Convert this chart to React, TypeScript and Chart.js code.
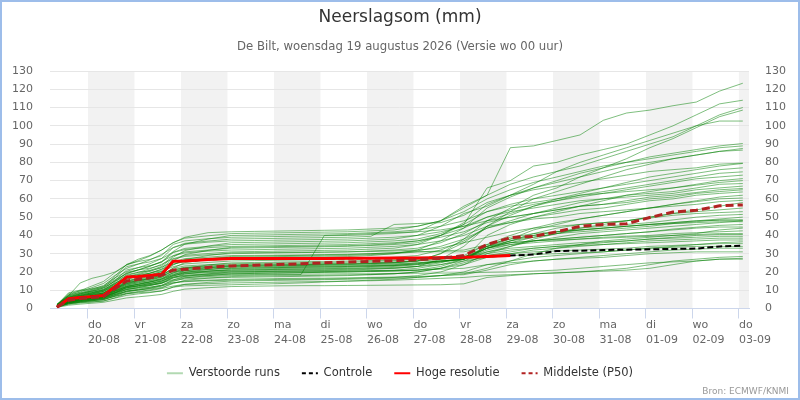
import React, { useEffect, useRef } from "react";
import { Chart, registerables } from "chart.js";

Chart.register(...registerables);

// ---------- data ----------
// hours since 19-08 00:00 (local time)
const hours = [8, 14, 20, 26, 32, 38, 44, 50, 56, 62, 68, 74, 86, 98, 110, 122, 134, 146, 158, 170, 182, 194, 206, 218, 230, 242, 254, 266, 278, 290, 302, 314, 326, 338, 350, 362];

const tickHours = [24, 48, 72, 96, 120, 144, 168, 192, 216, 240, 264, 288, 312, 336, 360];
const dayNames = ["do", "vr", "za", "zo", "ma", "di", "wo", "do", "vr", "za", "zo", "ma", "di", "wo", "do"];
const dayDates = ["20-08", "21-08", "22-08", "23-08", "24-08", "25-08", "26-08", "27-08", "28-08", "29-08", "30-08", "31-08", "01-09", "02-09", "03-09"];
const shadedDayStarts = [24, 72, 120, 168, 216, 264, 312, 360];

const hiRes = [0.7, 5.3, 6, 6.5, 7.1, 12, 17.2, 17.5, 18, 18.7, 25.8, 26, 26.8, 27.4, 27.4, 27.4, 27.4, 27.4, 27.5, 27.5, 27.6, 27.6, 27.8, 28, 28.5, 29];
const control = [0.7, 5.3, 6, 6.5, 7.1, 12, 17.2, 17.5, 18, 18.7, 25.8, 26, 26.8, 27.4, 27.4, 27.4, 27.4, 27.4, 27.5, 27.5, 27.6, 27.6, 27.8, 28, 28.5, 29, 29.5, 31.5, 31.6, 32, 32.2, 32.4, 32.6, 32.8, 34, 34.4];
const median = [0.8, 4.5, 5.5, 6, 6.5, 11, 15, 16, 16.8, 18.2, 21, 21.5, 22.5, 23.3, 23.7, 24.1, 24.5, 25, 25.4, 25.8, 26.2, 26.7, 27.5, 29, 35, 38.8, 39.5, 42, 45, 46, 46.4, 49.8, 52.8, 53.8, 56.2, 56.7];

const m01 = [0.6, 1.8, 2.4, 2.9, 3.4, 4.6, 5.8, 6.4, 7, 7.7, 9.4, 10.6, 11.4, 12, 12.2, 12.4, 12.5, 12.5, 12.6, 12.7, 12.8, 12.9, 13, 13.5, 17, 18, 19, 19.5, 20, 20.5, 21, 22, 24, 26, 27, 27];
const m02 = [0.7, 2.9, 3.4, 3.6, 4, 5.9, 8.1, 8.6, 9, 9.6, 11.7, 12.4, 12.7, 13, 13.3, 13.6, 14, 14.5, 15, 15.5, 16, 17, 18, 20, 24, 26, 28, 29, 30, 31, 32, 33, 34, 35, 36, 36.5];
const m03 = [0.8, 2.5, 3.4, 4.2, 5, 6.7, 8.1, 9, 9.8, 10.9, 12.3, 13.2, 13.6, 14, 14.2, 14.4, 14.6, 14.8, 15, 15.2, 15.5, 16, 16.5, 17, 18, 18.5, 19, 19.5, 20, 21, 22, 24, 26, 27, 28, 28.5];
const m04 = [0.8, 2.3, 3, 3.6, 4.2, 5.7, 7.2, 8, 8.7, 9.6, 11.7, 13.2, 14.3, 15, 15.2, 15.4, 15.6, 15.8, 16, 16.3, 16.6, 17, 18, 19, 22, 26, 30, 33, 35, 37, 38, 39, 40, 41, 43, 44];
const m05 = [0.8, 3.4, 4, 4.3, 4.8, 7, 9.6, 10.2, 10.7, 11.5, 14, 14.7, 15.2, 15.5, 15.7, 15.9, 16, 16.2, 16.4, 16.7, 17, 18, 20, 24, 30, 34, 38, 41, 44, 46, 48, 50, 52, 54, 56, 58];
const m06 = [1, 2.9, 3.8, 4.8, 5.8, 7.7, 9.3, 10.2, 11.2, 12.5, 14.1, 15, 15.5, 16, 16.2, 16.4, 16.5, 16.6, 16.8, 17, 17.2, 17.5, 18, 18.5, 21, 24, 26, 27, 28, 29, 30, 31, 32, 32.5, 33, 33];
const m07 = [0.9, 3.7, 4.4, 4.8, 5.3, 7.7, 10.5, 11.2, 11.7, 12.6, 15.3, 16.2, 16.7, 17, 17.2, 17.4, 17.6, 17.8, 18, 18.5, 19, 20, 22, 26, 31, 34, 37, 39, 41, 42, 43, 44, 45, 46, 47, 48];
const m08 = [0.9, 2.6, 3.5, 4.2, 4.9, 6.7, 8.4, 9.3, 10.2, 11.2, 13.7, 15.4, 16.6, 17.5, 17.7, 17.9, 18, 18.2, 18.4, 18.6, 19, 20, 22, 25, 29, 31, 33, 34, 35, 36, 37, 38, 39, 40, 40.5, 40.5];
const m09 = [1.1, 3.2, 4.3, 5.4, 6.5, 8.6, 10.4, 11.5, 12.6, 14, 15.8, 16.9, 17.5, 18, 18.2, 18.4, 18.6, 40, 40.5, 41, 41.5, 42, 43, 45, 48, 50, 52, 54, 56, 57, 58, 60, 61, 63, 64, 65];
const m10 = [0.9, 4.1, 4.8, 5.2, 5.7, 8.3, 11.5, 12.2, 12.8, 13.7, 16.7, 17.6, 18.1, 18.5, 18.6, 18.7, 18.8, 18.9, 19, 19, 19.2, 19.3, 19.4, 19.5, 19.8, 20, 20.5, 21, 22, 23, 24, 25, 25.5, 26, 27, 27.5];
const m11 = [1, 2.9, 3.8, 4.6, 5.3, 7.2, 9.1, 10.1, 11, 12.2, 14.8, 16.7, 18, 19, 19.2, 19.4, 19.6, 19.8, 20, 20.3, 20.6, 21, 23, 27, 33, 36, 39, 41, 43, 44, 45, 46, 47, 48, 49, 50];
const m12 = [1, 4.2, 4.9, 5.3, 5.9, 8.6, 11.8, 12.5, 13.1, 14.1, 17.1, 18, 18.6, 19, 19.2, 19.4, 19.6, 19.8, 20, 20.2, 20.5, 21, 22, 24, 28, 30, 32, 33, 34, 35, 36, 37, 37.5, 38, 38.5, 38.5];
const m13 = [1.2, 3.5, 4.7, 5.9, 7, 9.4, 11.3, 12.5, 13.7, 15.2, 17.2, 18.3, 18.9, 19.5, 19.7, 19.9, 20, 20.2, 20.4, 20.7, 21, 22, 24, 27, 40, 46, 50, 53, 56, 59, 62, 64, 66, 68, 70, 71.1];
const m14 = [1, 4.4, 5.2, 5.6, 6.2, 9, 12.4, 13.2, 13.8, 14.8, 18, 19, 19.6, 20, 20.2, 20.3, 20.4, 20.5, 20.6, 20.7, 20.8, 21, 21.5, 22, 24, 25, 26, 27, 27.5, 28, 29, 30, 30.5, 31, 31, 31];
const m15 = [1, 3, 4, 4.8, 5.6, 7.6, 9.6, 10.6, 11.6, 12.8, 15.6, 17.6, 19, 20, 20.2, 20.4, 20.6, 20.8, 21, 21.5, 22, 23, 25, 28, 33, 35, 37, 38, 39, 40, 41, 42, 43, 44, 44.6, 44.6];
const m16 = [1.2, 3.7, 4.9, 6.2, 7.4, 9.8, 11.9, 13.1, 14.4, 16, 18, 19.3, 19.9, 20.5, 20.7, 20.9, 21, 21.2, 21.4, 21.7, 22, 23, 27, 34, 45, 53, 60, 64, 68, 72, 76, 79, 82, 84, 86, 87.6];
const m17 = [1.1, 4.6, 5.5, 5.9, 6.5, 9.5, 13, 13.9, 14.5, 15.5, 18.9, 20, 20.6, 21, 21.2, 21.4, 21.6, 21.8, 22, 22.5, 23, 24, 25.5, 27, 34, 39, 41, 42, 43, 44, 45, 46, 47, 48, 48.3, 48.3];
const m18 = [1.3, 3.8, 5, 6.3, 7.6, 10.1, 12.2, 13.4, 14.7, 16.4, 18.5, 19.7, 20.4, 21, 21.2, 21.4, 21.5, 21.6, 21.8, 22, 22.5, 23, 24, 26, 28, 29, 29.5, 30, 30.5, 31, 32, 33, 33.5, 34, 34, 34];
const m19 = [1.1, 3.2, 4.3, 5.2, 6, 8.2, 10.3, 11.4, 12.5, 13.8, 16.8, 18.9, 20.4, 21.5, 21.7, 21.9, 22.1, 22.3, 22.5, 23, 23.5, 24.5, 26, 27, 33, 37, 41, 44, 46, 47, 48, 50, 52, 53, 54, 55];
const m20 = [1.1, 4.8, 5.7, 6.2, 6.8, 9.9, 13.6, 14.5, 15.2, 16.3, 19.8, 20.9, 21.6, 22, 22.2, 22.4, 22.6, 22.8, 23, 23.2, 23.5, 24, 25.5, 27, 32, 35, 36, 37, 38, 39, 39.5, 40, 41, 41.5, 42, 42.5];
const m21 = [1.3, 4, 5.3, 6.6, 7.9, 10.6, 12.8, 14.1, 15.4, 17.2, 19.4, 20.7, 21.3, 22, 22.2, 22.4, 22.6, 22.8, 23, 23.3, 23.7, 24.5, 26, 27, 34, 38, 43, 46, 49, 51, 53, 55, 57, 59, 61, 62];
const m22 = [1.1, 3.4, 4.5, 5.4, 6.3, 8.6, 10.8, 11.9, 13.1, 14.4, 17.6, 19.8, 21.4, 22.5, 22.7, 22.9, 23, 23.2, 23.4, 23.6, 24, 25, 26, 27, 33, 36, 37, 38, 39, 40, 41, 42, 43.5, 44.5, 45.5, 46];
const m23 = [1.2, 5.1, 6, 6.4, 7.1, 10.4, 14.3, 15.2, 15.9, 17, 20.7, 21.9, 22.5, 23, 23.2, 23.4, 23.6, 23.8, 24, 24.5, 25, 26, 30, 36, 45, 51, 56, 60, 63, 66, 69, 72, 74, 76, 78, 79.4];
const m24 = [1.4, 4.1, 5.5, 6.9, 8.3, 11, 13.3, 14.7, 16.1, 17.9, 20.2, 21.6, 22.3, 23, 23.2, 23.3, 23.5, 23.7, 23.8, 24, 24.5, 25, 26, 27, 29, 30, 31, 31.5, 32, 32.5, 33, 34, 34.5, 35, 35.5, 35.5];
const m25 = [1.2, 5.2, 6.1, 6.6, 7.3, 10.6, 14.6, 15.5, 16.2, 17.4, 21.2, 22.3, 23, 23.5, 23.7, 23.9, 24, 24.2, 24.4, 24.6, 25, 26, 27, 28, 34, 37, 39, 41, 42, 43, 44, 45, 46.5, 47.5, 48.5, 48.5];
const m26 = [1.2, 3.5, 4.7, 5.6, 6.6, 8.9, 11.3, 12.5, 13.6, 15, 18.3, 20.7, 22.3, 23.5, 23.7, 23.9, 24, 24.2, 24.4, 24.8, 25.2, 26, 30, 38, 48, 55, 62, 66, 72, 77, 82, 88, 93, 99, 105, 108.6];
const m27 = [1.4, 4.3, 5.8, 7.2, 8.6, 11.5, 13.9, 15.4, 16.8, 18.7, 21.1, 22.6, 23.3, 24, 24.2, 24.4, 24.5, 24.6, 24.8, 25, 25.5, 26, 27, 28, 31, 33, 34, 35, 36, 36.5, 37, 38, 38.5, 39, 39.5, 39.5];
const m28 = [1.2, 5.4, 6.4, 6.9, 7.6, 11, 15.2, 16.2, 16.9, 18.1, 22, 23.3, 24, 24.5, 24.7, 24.9, 25, 25.2, 25.4, 25.8, 26.2, 27, 28, 29, 35, 40, 44, 47, 49, 51, 53, 55, 57, 58.5, 60, 60.5];
const m29 = [1.3, 3.8, 5, 6, 7, 9.5, 12, 13.3, 14.5, 16, 19.5, 22, 23.8, 25, 25.2, 25.4, 25.6, 25.8, 26, 26.3, 26.6, 27, 27.5, 28, 33, 37, 40, 42, 44, 45, 46, 47, 48.5, 50, 51, 51.5];
const m30 = [1.6, 4.7, 6.2, 7.8, 9.4, 12.5, 15.1, 16.6, 18.2, 20.3, 22.9, 24.4, 25.2, 26, 26.2, 26.4, 26.6, 26.8, 27, 27.5, 28, 29, 32, 37, 44, 48, 52, 55, 58, 60, 62, 63, 64, 66, 68, 68.4];
const m31 = [1.4, 5.9, 7, 7.6, 8.4, 12.2, 16.7, 17.8, 18.6, 20, 24.3, 25.7, 26.5, 27, 27.1, 27.2, 27.3, 27.4, 27.5, 27.6, 27.8, 28, 28.2, 28.5, 30, 32, 33, 34, 34.5, 35, 35.5, 36, 36.5, 37, 37.5, 37.5];
const m32 = [1.7, 5, 6.6, 8.3, 9.9, 13.2, 16, 17.6, 19.3, 21.5, 24.2, 25.9, 26.7, 27.5, 27.7, 27.9, 28, 28.2, 28.4, 29, 30, 32, 37, 44, 55, 61, 66, 70, 74, 77, 80, 83, 85, 87, 89, 90.3];
const m33 = [1.4, 6.2, 7.3, 7.8, 8.7, 12.6, 17.4, 18.5, 19.3, 20.7, 25.2, 26.6, 27.4, 28, 28.2, 28.4, 28.6, 28.8, 29, 29.5, 30, 31, 31.5, 32, 35, 38, 40, 42, 43, 44, 45, 46, 46.5, 47, 47.5, 47.5];
const m34 = [1.4, 4.3, 5.7, 6.8, 8, 10.8, 13.7, 15.1, 16.5, 18.2, 22.2, 25.1, 27.1, 28.5, 28.7, 28.9, 29.1, 29.3, 29.5, 30, 30.5, 31.5, 34, 38, 44, 47, 50, 52, 54, 55, 57, 59, 60, 62, 63, 63.8];
const m35 = [1.7, 5.2, 7, 8.7, 10.4, 13.9, 16.8, 18.6, 20.3, 22.6, 25.5, 27.3, 28.1, 29, 29.1, 29.2, 29.3, 29.5, 29.7, 30, 30.5, 31, 31, 31, 34, 36, 37, 37.5, 38, 38.5, 39, 39.5, 40, 40.5, 41, 41];
const m36 = [1.5, 6.6, 7.8, 8.4, 9.3, 13.5, 18.6, 19.8, 20.7, 22.2, 27, 28.5, 29.4, 30, 30.2, 30.4, 30.6, 30.8, 31, 31.5, 32, 33, 36, 41, 48, 52, 56, 59, 62, 64, 66, 68, 70, 72, 74, 74.8];
const m37 = [1.5, 4.6, 6.1, 7.3, 8.5, 11.6, 14.6, 16.2, 17.7, 19.5, 23.8, 26.8, 29, 30.5, 30.6, 30.7, 30.8, 30.9, 31, 31.2, 31.5, 32, 33, 36, 39, 42, 44, 45, 46, 47, 48, 49.5, 51, 52, 52.5, 53];
const m38 = [1.9, 5.6, 7.4, 9.3, 11.2, 14.9, 18, 19.8, 21.7, 24.2, 27.3, 29.1, 30.1, 31, 31.2, 31.4, 31.6, 31.8, 32, 32.5, 33, 35, 40, 46, 66, 70, 78, 80, 84, 87, 90, 95, 100, 106, 112, 114];
const m39 = [1.6, 7, 8.3, 9, 9.9, 14.4, 19.8, 21.1, 22.1, 23.7, 28.8, 30.4, 31.4, 32, 32.2, 32.4, 32.6, 32.8, 33, 33.5, 34, 35, 37, 40, 45, 47, 49, 50, 52, 53, 54, 55, 56, 57, 58.5, 59.2];
const m40 = [2, 5.9, 7.9, 9.9, 11.9, 15.8, 19.1, 21.1, 23.1, 25.7, 29, 31, 32, 33, 33.2, 33.4, 33.6, 33.8, 34, 34.5, 35, 36, 40, 47, 57, 62, 66, 69, 72, 75, 78, 80, 82, 84, 86, 86.7];
const m41 = [1.7, 5, 6.7, 8, 9.4, 12.7, 16.1, 17.8, 19.4, 21.4, 26.1, 29.5, 31.8, 33.5, 33.7, 33.9, 34, 34.2, 34.4, 34.8, 35.5, 37, 40, 44, 50, 54, 57, 59, 61, 63, 65, 67, 69, 71, 72, 73];
const m42 = [1.7, 7.5, 8.8, 9.5, 10.5, 15.3, 21.1, 22.4, 23.5, 25.2, 30.6, 32.3, 33.3, 34, 34.2, 34.4, 34.6, 34.8, 35, 35.5, 36, 37, 39, 42, 47, 50, 52, 54, 56, 57, 59, 61, 62, 63.5, 65, 65.7];
const m43 = [2.1, 6.3, 8.4, 10.5, 12.6, 16.8, 20.3, 22.4, 24.5, 27.3, 30.8, 32.9, 34, 35, 35.2, 35.4, 35.6, 35.8, 36, 36.5, 37, 38, 41, 46, 53, 57, 60, 62, 64, 66, 68, 70, 72, 74, 76, 77];
const m44 = [1.8, 5.4, 7.2, 8.6, 10.1, 13.7, 17.3, 19.1, 20.9, 23, 28.1, 31.7, 34.2, 36, 36.2, 36.4, 36.6, 36.8, 37, 37.5, 38, 40, 45, 52, 56, 62, 68, 75, 80, 84, 88, 92, 96, 100, 102.6, 102.6];
const m45 = [1.9, 8.1, 9.6, 10.4, 11.5, 16.7, 22.9, 24.4, 25.5, 27.4, 33.3, 35.2, 36.3, 37, 37.2, 37.4, 37.6, 37.8, 38, 38.5, 39, 40, 42, 45, 50, 53, 55, 57, 59, 60, 61, 62, 63, 65, 66, 67];
const m46 = [2.3, 6.8, 9.1, 11.4, 13.7, 18.2, 22, 24.3, 26.6, 29.6, 33.4, 35.7, 36.9, 38, 38.2, 38.4, 38.6, 38.8, 39, 39.5, 46, 46.5, 47, 51, 58, 62, 65, 67, 69, 71, 73, 75, 76, 77, 79, 79.6];
const m47 = [2, 8.6, 10.1, 10.9, 12.1, 17.6, 24.2, 25.7, 26.9, 28.9, 35.1, 37, 38.2, 39, 39.2, 39.4, 39.6, 39.8, 40, 40.5, 41, 42, 48, 56, 62, 88, 89, 92, 95, 103, 107, 108.6, 111, 113, 119, 123.3];
const m48 = [2, 6, 8, 9.6, 11.2, 15.2, 19.2, 21.2, 23.2, 25.6, 31.2, 35.2, 38, 40, 40.2, 40.4, 40.6, 40.8, 41, 41.5, 42, 43, 45, 48, 53, 56, 58, 60, 62, 63, 64, 65, 66, 67.5, 69, 70];
const m49 = [2.5, 7.4, 9.8, 12.3, 14.8, 19.7, 23.8, 26.2, 28.7, 32, 36.1, 38.5, 39.8, 41, 41.2, 41.4, 41.6, 41.8, 42, 42.5, 43, 45, 48, 53, 60, 65, 69, 72, 75, 78, 80, 82, 84, 86, 88, 89];
const m50 = [2, 7, 14, 16.5, 18, 20, 24, 27, 29, 32, 36, 39, 41.5, 42, 42.2, 42.4, 42.6, 42.8, 43, 43.5, 44, 45, 48, 55, 62, 68, 72, 75, 78, 82, 86, 90, 94, 100, 106, 110];

const members = [m01, m02, m03, m04, m05, m06, m07, m08, m09, m10, m11, m12, m13, m14, m15, m16, m17, m18, m19, m20, m21, m22, m23, m24, m25, m26, m27, m28, m29, m30, m31, m32, m33, m34, m35, m36, m37, m38, m39, m40, m41, m42, m43, m44, m45, m46, m47, m48, m49, m50];

const TITLE = "Neerslagsom (mm)";
const SUBTITLE = "De Bilt, woensdag 19 augustus 2026 (Versie wo 00 uur)";
const CREDIT = "Bron: ECMWF/KNMI";
const legendNames = ["Verstoorde runs", "Controle", "Hoge resolutie", "Middelste (P50)"];

const FONT = "'DejaVu Sans', Verdana, sans-serif";

export default function App() {
  const ref = useRef<HTMLCanvasElement | null>(null);

  useEffect(() => {
    document.body.style.margin = "0";
    const canvas = ref.current;
    if (!canvas) return;

    const toPts = (vals: number[]) => vals.map((v, i) => ({ x: hours[i], y: v }));

    const datasets: any[] = members.map((m, k) => ({
      label: k === 0 ? legendNames[0] : legendNames[0] + " " + (k + 1),
      data: toPts(m),
      borderColor: "rgba(0,128,0,0.5)",
      borderWidth: 1,
      pointRadius: 0,
      tension: 0,
      order: 4,
    }));
    datasets.push({
      label: legendNames[1],
      data: toPts(control),
      borderColor: "#000000",
      borderWidth: 2,
      borderDash: [6, 3],
      pointRadius: 0,
      order: 3,
    });
    datasets.push({
      label: legendNames[2],
      data: toPts(hiRes),
      borderColor: "#ff0000",
      borderWidth: 3,
      pointRadius: 0,
      order: 2,
    });
    datasets.push({
      label: legendNames[3],
      data: toPts(median),
      borderColor: "#b22222",
      borderWidth: 3,
      borderDash: [8, 4],
      pointRadius: 0,
      order: 1,
    });

    const bandsPlugin = {
      id: "dayBands",
      beforeDraw(chart: any) {
        const { ctx, chartArea: a, scales } = chart;
        const xs = scales.x;
        ctx.save();
        ctx.fillStyle = "#f2f2f2";
        shadedDayStarts.forEach((h) => {
          const x0 = Math.max(a.left, xs.getPixelForValue(h));
          const x1 = Math.min(a.right, xs.getPixelForValue(h + 24));
          if (x1 > x0) ctx.fillRect(x0, a.top, x1 - x0, a.bottom - a.top);
        });
        ctx.restore();
      },
    };

    const textPlugin = {
      id: "texts",
      afterDraw(chart: any) {
        const { ctx, width, height } = chart;
        ctx.save();
        ctx.textAlign = "center";
        ctx.textBaseline = "middle";
        ctx.fillStyle = "#333333";
        ctx.font = "17px " + FONT;
        ctx.fillText(TITLE, width / 2, 18);
        ctx.fillStyle = "#666666";
        ctx.font = "11.7px " + FONT;
        ctx.fillText(SUBTITLE, width / 2, 47);
        ctx.textAlign = "right";
        ctx.fillStyle = "#999999";
        ctx.font = "9px " + FONT;
        ctx.fillText(CREDIT, width - 11, height - 8);
        ctx.strokeStyle = "#9dbdea";
        ctx.lineWidth = 2;
        ctx.strokeRect(1, 1, width - 2, height - 2);
        ctx.restore();
      },
    };

    const yTickOpts = (pad: number) => ({
      stepSize: 10,
      padding: pad,
      color: "#666666",
      font: { size: 11, family: FONT },
    });

    const chart = new Chart(canvas, {
      type: "line",
      data: { datasets },
      plugins: [bandsPlugin, textPlugin],
      options: {
        animation: false,
        responsive: false,
        devicePixelRatio: 1,
        layout: { padding: { top: 71, left: 0, right: 0, bottom: 11 } },
        elements: { line: { borderJoinStyle: "round" } },
        scales: {
          x: {
            type: "linear",
            min: 4.4,
            max: 365.2,
            afterBuildTicks: (s: any) => {
              s.ticks = tickHours.map((v) => ({ value: v }));
            },
            afterFit: (s: any) => {
              s.height = 37;
            },
            grid: { drawOnChartArea: false, color: "#ccd6eb", tickLength: 10 },
            border: { color: "#ccd6eb" },
            ticks: {
              autoSkip: false,
              maxRotation: 0,
              minRotation: 0,
              align: "start",
              padding: -1,
              color: "#666666",
              font: { size: 11, family: FONT, lineHeight: 1.35 },
              callback: (v: any) => {
                const i = tickHours.indexOf(Number(v));
                return i >= 0 ? [dayNames[i], dayDates[i]] : "";
              },
            },
          },
          y: {
            position: "left",
            min: 0,
            max: 130,
            ticks: yTickOpts(17),
            grid: { color: "#e6e6e6", drawTicks: false },
            border: { display: false },
            afterFit: (s: any) => {
              s.width = 50;
            },
          },
          y2: {
            position: "right",
            min: 0,
            max: 130,
            ticks: yTickOpts(16),
            grid: { drawOnChartArea: false, drawTicks: false },
            border: { display: false },
            afterFit: (s: any) => {
              s.width = 51;
            },
          },
        },
        plugins: {
          title: { display: false },
          tooltip: { enabled: false },
          legend: {
            display: true,
            position: "bottom",
            onClick: () => {},
            labels: {
              usePointStyle: true,
              pointStyleWidth: 16,
              boxWidth: 16,
              padding: 22,
              color: "#333333",
              font: { size: 11.5, family: FONT },
              generateLabels: () => [
                { text: legendNames[0], strokeStyle: "rgba(0,128,0,0.3)", fillStyle: "rgba(0,0,0,0)", lineWidth: 2, pointStyle: "line", hidden: false, datasetIndex: 0, fontColor: "#333333" },
                { text: legendNames[1], strokeStyle: "#000000", fillStyle: "rgba(0,0,0,0)", lineWidth: 2, lineDash: [4, 3], pointStyle: "line", hidden: false, datasetIndex: 50, fontColor: "#333333" },
                { text: legendNames[2], strokeStyle: "#ff0000", fillStyle: "rgba(0,0,0,0)", lineWidth: 2, pointStyle: "line", hidden: false, datasetIndex: 51, fontColor: "#333333" },
                { text: legendNames[3], strokeStyle: "#b22222", fillStyle: "rgba(0,0,0,0)", lineWidth: 2, lineDash: [4, 3], pointStyle: "line", hidden: false, datasetIndex: 52, fontColor: "#333333" },
              ],
            },
          },
        },
      } as any,
    });

    return () => chart.destroy();
  }, []);

  return (
    <div style={{ width: 800, height: 400, position: "relative", background: "#ffffff" }}>
      <canvas ref={ref} width={800} height={400} style={{ display: "block" }} />
    </div>
  );
}
